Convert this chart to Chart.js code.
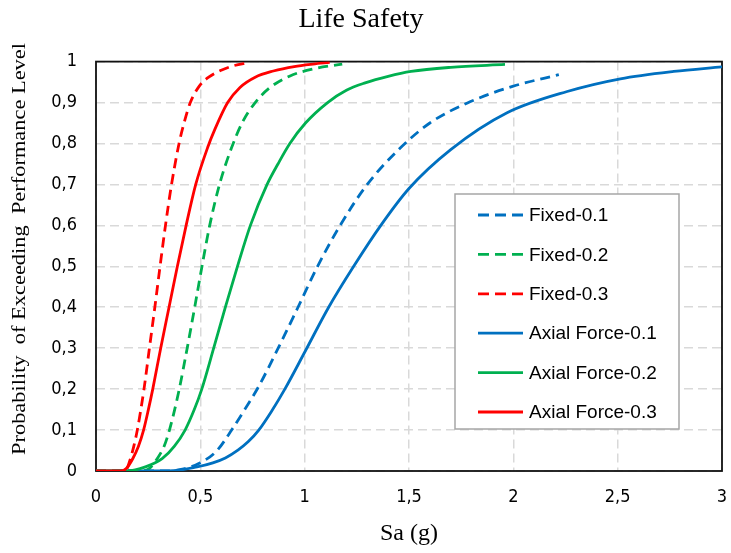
<!DOCTYPE html>
<html>
<head>
<meta charset="utf-8">
<script src="https://cdn.jsdelivr.net/npm/chart.js@4/dist/chart.umd.min.js"></script>
<style>
  html, body { margin: 0; padding: 0; background: #fff; }
</style>
</head>
<body>
<canvas id="fragility" width="731" height="553"></canvas>
<script>
// Sa (g) vs probability, read point by point
const fixed01 = [[0, 0], [0.33, 0], [0.42, 0.005], [0.5, 0.02], [0.58, 0.05], [0.65, 0.1], [0.715, 0.152], [0.778, 0.205], [0.873, 0.3], [0.968, 0.4], [1.062, 0.5], [1.17, 0.6], [1.3, 0.7], [1.45, 0.785], [1.6, 0.85], [1.78, 0.899], [2.0, 0.94], [2.218, 0.968]];
const fixed02 = [[0, 0], [0.22, 0], [0.26, 0.008], [0.293, 0.03], [0.326, 0.06], [0.352, 0.1], [0.377, 0.15], [0.399, 0.2], [0.437, 0.3], [0.473, 0.4], [0.508, 0.5], [0.545, 0.6], [0.592, 0.7], [0.65, 0.79], [0.7, 0.85], [0.763, 0.9], [0.835, 0.937], [0.93, 0.965], [1.04, 0.982], [1.18, 0.994]];
const fixed03 = [[0, 0], [0.13, 0], [0.15, 0.008], [0.165, 0.03], [0.181, 0.06], [0.198, 0.1], [0.23, 0.2], [0.256, 0.3], [0.282, 0.4], [0.307, 0.5], [0.333, 0.6], [0.362, 0.7], [0.398, 0.8], [0.422, 0.85], [0.452, 0.9], [0.495, 0.94], [0.54, 0.962], [0.6, 0.979], [0.66, 0.99], [0.73, 0.997]];
const axial01 = [[0, 0], [0.35, 0], [0.484, 0.01], [0.56, 0.02], [0.62, 0.032], [0.68, 0.051], [0.73, 0.072], [0.78, 0.1], [0.84, 0.145], [0.905, 0.2], [1.0, 0.29], [1.115, 0.4], [1.235, 0.5], [1.365, 0.6], [1.5, 0.69], [1.7, 0.785], [1.97, 0.875], [2.258, 0.927], [2.513, 0.958], [2.769, 0.976], [3.0, 0.987]];
const axial02 = [[0, 0], [0.15, 0], [0.237, 0.01], [0.317, 0.03], [0.375, 0.06], [0.427, 0.1], [0.471, 0.15], [0.507, 0.2], [0.564, 0.3], [0.62, 0.4], [0.678, 0.5], [0.74, 0.6], [0.82, 0.7], [0.872, 0.75], [0.929, 0.8], [1.004, 0.85], [1.11, 0.9], [1.2, 0.93], [1.29, 0.948], [1.4, 0.964], [1.51, 0.976], [1.7, 0.986], [1.96, 0.993]];
const axial03 = [[0, 0], [0.12, 0], [0.145, 0.006], [0.176, 0.03], [0.203, 0.06], [0.228, 0.1], [0.251, 0.15], [0.272, 0.2], [0.31, 0.3], [0.35, 0.4], [0.39, 0.5], [0.432, 0.6], [0.478, 0.7], [0.535, 0.79], [0.57, 0.835], [0.631, 0.9], [0.69, 0.937], [0.763, 0.962], [0.85, 0.977], [0.95, 0.988], [1.04, 0.994], [1.12, 0.998]];

const seriesNames = ["Fixed-0.1", "Fixed-0.2", "Fixed-0.3", "Axial Force-0.1", "Axial Force-0.2", "Axial Force-0.3"];
const xTickLabels = ["0", "0,5", "1", "1,5", "2", "2,5", "3"];
const yTickLabels = ["0", "0,1", "0,2", "0,3", "0,4", "0,5", "0,6", "0,7", "0,8", "0,9", "1"];

const BLUE = "#0070c0";
const GREEN = "#00b050";
const RED = "#ff0000";
const DASH = [10, 6];

const serif = "'Liberation Serif', 'Times New Roman', serif";
const narrow = "'Liberation Sans Narrow', 'DejaVu Sans Condensed', 'Liberation Sans', sans-serif";

function toPoints(arr) {
  return arr.map(p => ({ x: p[0], y: p[1] }));
}

const seriesData = [fixed01, fixed02, fixed03, axial01, axial02, axial03];
const seriesColors = [BLUE, GREEN, RED, BLUE, GREEN, RED];

const datasets = seriesData.map((d, i) => ({
  label: seriesNames[i],
  data: toPoints(d),
  borderColor: seriesColors[i],
  backgroundColor: seriesColors[i],
  borderWidth: 2.8,
  borderDash: i < 3 ? DASH : [],
  pointRadius: 0,
  fill: false,
  cubicInterpolationMode: "monotone",
  // later series sit on top
  order: seriesData.length - i
}));

// black frame round the plot, under the curves
const framePlugin = {
  id: "frame",
  beforeDatasetsDraw(chart) {
    const { ctx, chartArea: a } = chart;
    ctx.save();
    ctx.strokeStyle = "#111";
    ctx.lineWidth = 1.8;
    ctx.strokeRect(a.left, a.top, a.right - a.left, a.bottom - a.top);
    ctx.restore();
  }
};

// rotated y title, stretched along its length
const yTitlePlugin = {
  id: "yTitle",
  afterDraw(chart) {
    const ctx = chart.ctx;
    const text = "Probability  of Exceeding  Performance Level";
    ctx.save();
    ctx.font = "19px " + serif;
    ctx.fillStyle = "#000";
    ctx.textAlign = "center";
    ctx.textBaseline = "middle";
    const w = ctx.measureText(text).width;
    ctx.translate(20, 249);
    ctx.rotate(-Math.PI / 2);
    ctx.scale(412 / w, 1);
    ctx.fillText(text, 0, 0);
    ctx.restore();
  }
};

// boxed legend inside the plot
const legendPlugin = {
  id: "boxLegend",
  afterDraw(chart) {
    const ctx = chart.ctx;
    const left = 455, top = 194, width = 224, height = 235;
    ctx.save();
    ctx.fillStyle = "#fff";
    ctx.fillRect(left, top, width, height);
    ctx.strokeStyle = "#a6a6a6";
    ctx.lineWidth = 1.5;
    ctx.strokeRect(left, top, width, height);
    ctx.font = "19px 'Liberation Sans', Arial, sans-serif";
    ctx.textBaseline = "middle";
    ctx.textAlign = "left";
    chart.data.datasets.forEach((ds, i) => {
      const y = top + 21 + i * 39.4;
      ctx.beginPath();
      ctx.setLineDash(ds.borderDash.length ? [11, 6] : []);
      ctx.strokeStyle = ds.borderColor;
      ctx.lineWidth = ds.borderWidth;
      ctx.moveTo(478, y);
      ctx.lineTo(523, y);
      ctx.stroke();
      ctx.setLineDash([]);
      ctx.fillStyle = "#000";
      ctx.fillText(ds.label, 529, y + 1);
    });
    ctx.restore();
  }
};

new Chart(document.getElementById("fragility"), {
  type: "line",
  data: { datasets },
  options: {
    responsive: false,
    animation: false,
    layout: { padding: { left: 0, right: 9, top: 0, bottom: 0 } },
    plugins: {
      legend: { display: false },
      tooltip: { enabled: false },
      title: {
        display: true,
        text: "Life Safety",
        color: "#000",
        font: { family: serif, size: 28, weight: "normal" },
        padding: { top: 3, bottom: 25 }
      }
    },
    scales: {
      x: {
        type: "linear",
        min: 0,
        max: 3,
        afterFit(scale) {
          scale.height = 82;
          scale.paddingLeft = 0;
          scale.paddingRight = 0;
        },
        ticks: {
          stepSize: 0.5,
          color: "#000",
          padding: 16,
          font: { family: narrow, size: 18 },
          callback: (v, i) => xTickLabels[i]
        },
        grid: { color: "#d9d9d9", lineWidth: 1.5, drawTicks: false },
        border: { display: false, dash: [9, 5] },
        title: {
          display: true,
          text: "Sa (g)",
          color: "#000",
          font: { family: serif, size: 24 },
          padding: { top: 0, bottom: 5 }
        }
      },
      y: {
        min: 0,
        max: 1,
        afterFit(scale) { scale.width = 96; },
        ticks: {
          stepSize: 0.1,
          color: "#000",
          padding: 19,
          font: { family: narrow, size: 18 },
          callback: (v, i) => yTickLabels[i]
        },
        grid: { color: "#d9d9d9", lineWidth: 1.5, drawTicks: false },
        border: { display: false, dash: [9, 5] }
      }
    }
  },
  plugins: [framePlugin, yTitlePlugin, legendPlugin]
});
</script>
</body>
</html>
